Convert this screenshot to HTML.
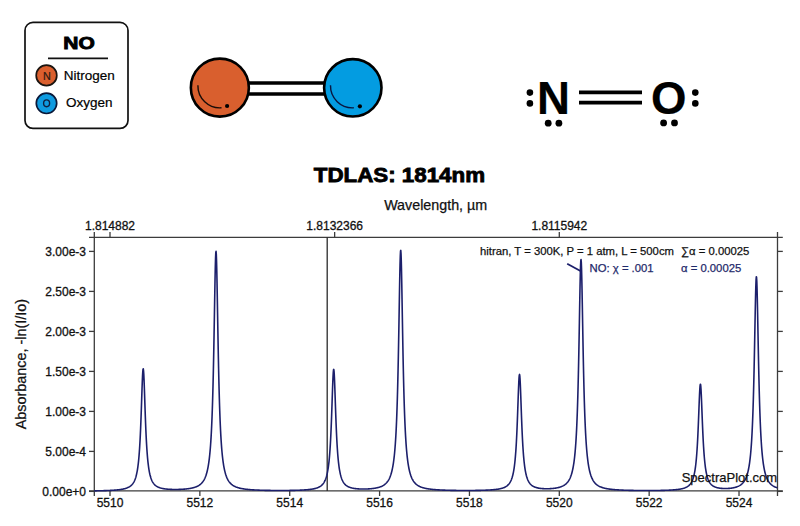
<!DOCTYPE html>
<html><head><meta charset="utf-8">
<style>
html,body{margin:0;padding:0;background:#fff;}
body{width:800px;height:526px;overflow:hidden;position:relative;font-family:"Liberation Sans", sans-serif;}
svg{position:absolute;left:0;top:0;}
text{font-family:"Liberation Sans", sans-serif;}
</style></head><body>
<svg width="800" height="526" viewBox="0 0 800 526">
<rect x="0" y="0" width="800" height="526" fill="#ffffff"/>
<!-- legend box -->
<rect x="25" y="22.4" width="103" height="106" rx="8" ry="8" fill="#fff" stroke="#111" stroke-width="1.7"/>
<text transform="translate(79,49.3) scale(1.22,1)" x="0" y="0" text-anchor="middle" font-size="17.2" font-weight="bold" fill="#000" stroke="#000" stroke-width="0.9">NO</text>
<line x1="48" y1="58.4" x2="108" y2="58.4" stroke="#111" stroke-width="1.6"/>
<circle cx="46.5" cy="75.4" r="10.3" fill="#DA5F2E" stroke="#1a1410" stroke-width="1.7"/>
<text x="46.9" y="79.9" text-anchor="middle" font-size="10.8" fill="#2a1a10" stroke="#2a1a10" stroke-width="0.2">N</text>
<text x="63.7" y="79.6" font-size="13.5" fill="#000" stroke="#000" stroke-width="0.2">Nitrogen</text>
<circle cx="46.5" cy="103.3" r="10.2" fill="#0F9BE0" stroke="#0a1838" stroke-width="1.7"/>
<ellipse cx="46.6" cy="103.3" rx="3.0" ry="3.4" fill="none" stroke="#0f2040" stroke-width="1.4"/>
<text x="66" y="106.7" font-size="13.5" fill="#000" stroke="#000" stroke-width="0.2">Oxygen</text>

<!-- ball & stick -->
<line x1="248" y1="83" x2="324" y2="83" stroke="#000" stroke-width="3.5"/>
<line x1="248" y1="94" x2="324" y2="94" stroke="#000" stroke-width="3.5"/>
<circle cx="219.85" cy="87.65" r="29" fill="#D95F2E" stroke="#000" stroke-width="2.6"/>
<path d="M197.9,85.3 A22,22 0 0 0 221.5,107.8" fill="none" stroke="#1a0d08" stroke-width="1.4"/>
<circle cx="227.1" cy="106" r="2.1" fill="#000"/>
<circle cx="352.8" cy="87.8" r="28.7" fill="#039CE1" stroke="#000" stroke-width="2.6"/>
<path d="M330.5,85.3 A22,22 0 0 0 353.8,107.8" fill="none" stroke="#0a1640" stroke-width="1.4"/>
<circle cx="359.9" cy="106.3" r="2.1" fill="#000"/>

<!-- Lewis -->
<text x="553.4" y="113.5" text-anchor="middle" font-size="45.6" font-weight="bold" fill="#000" stroke="#000" stroke-width="0.2">N</text>
<text x="668.8" y="113.7" text-anchor="middle" font-size="45.6" font-weight="bold" fill="#000" stroke="#000" stroke-width="0.2">O</text>
<line x1="579" y1="92.3" x2="642" y2="92.3" stroke="#000" stroke-width="3.7"/>
<line x1="579" y1="102.7" x2="642" y2="102.7" stroke="#000" stroke-width="3.7"/>
<circle cx="529.9" cy="92.6" r="3.3" fill="#000"/>
<circle cx="529.9" cy="103.4" r="3.3" fill="#000"/>
<circle cx="548.2" cy="123.2" r="3.4" fill="#000"/>
<circle cx="558.9" cy="123.2" r="3.4" fill="#000"/>
<circle cx="695.3" cy="92.6" r="3.3" fill="#000"/>
<circle cx="695.3" cy="103.4" r="3.3" fill="#000"/>
<circle cx="663.6" cy="122.9" r="3.4" fill="#000"/>
<circle cx="674.5" cy="122.9" r="3.4" fill="#000"/>

<!-- title -->
<text transform="translate(399.4,182.2) scale(1.14,1)" x="0" y="0" text-anchor="middle" font-size="19.6" font-weight="bold" fill="#000" stroke="#000" stroke-width="0.8">TDLAS: 1814nm</text>
<text x="435.7" y="210.1" text-anchor="middle" font-size="14.3" fill="#111" stroke="#111" stroke-width="0.25">Wavelength, µm</text>

<!-- axes -->
<g stroke="#3c3c3c" stroke-width="1.3" fill="none">
<line x1="89" y1="237.3" x2="782.8" y2="237.3"/>
<line x1="89" y1="490.8" x2="782.8" y2="490.8"/>
<line x1="94.3" y1="232" x2="94.3" y2="496"/>
<line x1="777.5" y1="232" x2="777.5" y2="496"/>
</g>
<g stroke="#3c3c3c" stroke-width="1.3"><line x1="110.00" y1="491" x2="110.00" y2="496"/><line x1="199.86" y1="491" x2="199.86" y2="496"/><line x1="289.72" y1="491" x2="289.72" y2="496"/><line x1="379.58" y1="491" x2="379.58" y2="496"/><line x1="469.44" y1="491" x2="469.44" y2="496"/><line x1="559.30" y1="491" x2="559.30" y2="496"/><line x1="649.16" y1="491" x2="649.16" y2="496"/><line x1="739.02" y1="491" x2="739.02" y2="496"/><line x1="110.00" y1="232" x2="110.00" y2="237.2"/><line x1="334.65" y1="232" x2="334.65" y2="237.2"/><line x1="559.30" y1="232" x2="559.30" y2="237.2"/><line x1="89" y1="491.40" x2="94.3" y2="491.40"/><line x1="777.5" y1="491.40" x2="782.8" y2="491.40"/><line x1="89" y1="451.40" x2="94.3" y2="451.40"/><line x1="777.5" y1="451.40" x2="782.8" y2="451.40"/><line x1="89" y1="411.40" x2="94.3" y2="411.40"/><line x1="777.5" y1="411.40" x2="782.8" y2="411.40"/><line x1="89" y1="371.40" x2="94.3" y2="371.40"/><line x1="777.5" y1="371.40" x2="782.8" y2="371.40"/><line x1="89" y1="331.40" x2="94.3" y2="331.40"/><line x1="777.5" y1="331.40" x2="782.8" y2="331.40"/><line x1="89" y1="291.40" x2="94.3" y2="291.40"/><line x1="777.5" y1="291.40" x2="782.8" y2="291.40"/><line x1="89" y1="251.40" x2="94.3" y2="251.40"/><line x1="777.5" y1="251.40" x2="782.8" y2="251.40"/></g>
<g fill="#111" stroke="#111" stroke-width="0.3"><text x="110.00" y="506.8" text-anchor="middle" font-size="12">5510</text><text x="199.86" y="506.8" text-anchor="middle" font-size="12">5512</text><text x="289.72" y="506.8" text-anchor="middle" font-size="12">5514</text><text x="379.58" y="506.8" text-anchor="middle" font-size="12">5516</text><text x="469.44" y="506.8" text-anchor="middle" font-size="12">5518</text><text x="559.30" y="506.8" text-anchor="middle" font-size="12">5520</text><text x="649.16" y="506.8" text-anchor="middle" font-size="12">5522</text><text x="739.02" y="506.8" text-anchor="middle" font-size="12">5524</text><text x="110.00" y="229.5" text-anchor="middle" font-size="12">1.814882</text><text x="334.65" y="229.5" text-anchor="middle" font-size="12">1.8132366</text><text x="559.30" y="229.5" text-anchor="middle" font-size="12">1.8115942</text><text x="86" y="495.60" text-anchor="end" font-size="12">0.00e+0</text><text x="86" y="455.60" text-anchor="end" font-size="12">5.00e-4</text><text x="86" y="415.60" text-anchor="end" font-size="12">1.00e-3</text><text x="86" y="375.60" text-anchor="end" font-size="12">1.50e-3</text><text x="86" y="335.60" text-anchor="end" font-size="12">2.00e-3</text><text x="86" y="295.60" text-anchor="end" font-size="12">2.50e-3</text><text x="86" y="255.60" text-anchor="end" font-size="12">3.00e-3</text></g>

<line x1="327.2" y1="237.2" x2="327.2" y2="491.1" stroke="#2a2a2a" stroke-width="1.3"/>
<text transform="translate(26.3,364.1) rotate(-90)" text-anchor="middle" font-size="14.4" fill="#111" stroke="#111" stroke-width="0.25">Absorbance, -ln(I/Io)</text>
<polyline points="94.30,490.88 95.30,490.86 96.30,490.84 97.30,490.82 98.30,490.80 99.30,490.78 100.30,490.76 101.30,490.73 102.30,490.71 103.30,490.68 103.80,490.66 104.30,490.65 104.80,490.63 105.30,490.61 105.80,490.60 106.30,490.58 106.80,490.56 107.30,490.54 107.80,490.52 108.30,490.50 108.80,490.48 109.30,490.45 109.80,490.43 110.30,490.41 110.80,490.38 111.30,490.35 111.80,490.32 112.30,490.29 112.80,490.26 113.30,490.23 113.80,490.20 114.30,490.16 114.80,490.12 115.30,490.08 115.80,490.04 116.30,490.00 116.80,489.95 117.30,489.90 117.80,489.85 118.30,489.80 118.80,489.74 119.30,489.68 119.80,489.61 120.30,489.54 120.80,489.47 121.30,489.39 121.80,489.30 122.30,489.21 122.80,489.12 123.30,489.01 123.80,488.90 124.30,488.78 124.80,488.65 125.30,488.51 125.80,488.36 126.30,488.19 126.80,488.01 127.30,487.82 127.80,487.60 128.30,487.37 128.55,487.24 128.80,487.11 129.05,486.97 129.30,486.82 129.55,486.67 129.80,486.51 130.05,486.34 130.30,486.16 130.55,485.96 130.80,485.76 131.05,485.55 131.30,485.32 131.55,485.08 131.80,484.83 132.05,484.56 132.30,484.27 132.55,483.96 132.80,483.64 133.05,483.29 133.30,482.91 133.55,482.51 133.80,482.08 134.05,481.62 134.30,481.12 134.55,480.59 134.80,480.01 135.05,479.38 135.30,478.71 135.55,477.97 135.80,477.17 136.05,476.30 136.30,475.35 136.55,474.31 136.80,473.16 137.05,471.91 137.30,470.53 137.55,469.00 137.80,467.32 138.05,465.45 138.30,463.38 138.55,461.07 138.80,458.49 139.05,455.62 139.30,452.41 139.55,448.83 139.80,444.82 140.05,440.35 140.30,435.38 140.55,429.88 140.80,423.84 141.05,417.27 141.30,410.25 141.55,402.89 141.80,395.40 142.05,388.09 142.30,381.36 142.55,375.65 142.80,371.43 143.05,369.09 143.30,368.87 143.55,370.79 143.80,374.66 144.05,380.10 144.30,386.67 144.55,393.89 144.80,401.36 145.05,408.76 145.30,415.86 145.55,422.52 145.80,428.67 146.05,434.27 146.30,439.34 146.55,443.90 146.80,447.99 147.05,451.65 147.30,454.93 147.55,457.86 147.80,460.49 148.05,462.84 148.30,464.96 148.55,466.86 148.80,468.58 149.05,470.13 149.30,471.53 149.55,472.80 149.80,473.96 150.05,475.02 150.30,475.98 150.55,476.86 150.80,477.67 151.05,478.41 151.30,479.10 151.55,479.73 151.80,480.31 152.05,480.85 152.30,481.35 152.55,481.81 152.80,482.24 153.05,482.64 153.30,483.02 153.55,483.37 153.80,483.69 154.05,484.00 154.30,484.29 154.55,484.56 154.80,484.81 155.05,485.05 155.30,485.27 155.55,485.48 155.80,485.68 156.05,485.87 156.30,486.04 156.55,486.21 156.80,486.37 157.05,486.52 157.30,486.66 157.55,486.80 157.80,486.92 158.05,487.05 158.30,487.16 158.80,487.38 159.30,487.57 159.80,487.75 160.30,487.91 160.80,488.06 161.30,488.19 161.80,488.31 162.30,488.43 162.80,488.53 163.30,488.62 163.80,488.71 164.30,488.79 164.80,488.86 165.30,488.93 165.80,488.99 166.30,489.05 166.80,489.10 167.30,489.15 167.80,489.19 168.30,489.23 168.80,489.26 169.30,489.30 169.80,489.32 170.30,489.35 170.80,489.37 171.30,489.39 171.80,489.41 172.30,489.43 172.80,489.44 173.30,489.45 173.80,489.46 174.30,489.46 174.80,489.47 175.30,489.47 175.80,489.47 176.30,489.47 176.80,489.46 177.30,489.45 177.80,489.44 178.30,489.43 178.80,489.42 179.30,489.41 179.80,489.39 180.30,489.37 180.80,489.35 181.30,489.32 181.80,489.30 182.30,489.27 182.80,489.24 183.30,489.21 183.80,489.17 184.30,489.13 184.80,489.09 185.30,489.04 185.80,489.00 186.30,488.94 186.80,488.89 187.30,488.83 187.80,488.77 188.30,488.70 188.80,488.63 189.30,488.55 189.80,488.47 190.30,488.39 190.80,488.29 191.30,488.19 191.80,488.09 192.30,487.98 192.80,487.86 193.30,487.73 193.80,487.59 194.30,487.44 194.80,487.28 195.30,487.11 195.80,486.92 196.30,486.72 196.80,486.51 197.30,486.27 197.80,486.02 198.30,485.75 198.80,485.45 199.30,485.12 199.80,484.77 200.30,484.38 200.80,483.95 201.30,483.48 201.55,483.23 201.80,482.96 202.05,482.68 202.30,482.39 202.55,482.08 202.80,481.75 203.05,481.40 203.30,481.04 203.55,480.65 203.80,480.24 204.05,479.81 204.30,479.35 204.55,478.86 204.80,478.34 205.05,477.78 205.30,477.20 205.55,476.57 205.80,475.89 206.05,475.18 206.30,474.40 206.55,473.58 206.80,472.69 207.05,471.74 207.30,470.71 207.55,469.59 207.80,468.39 208.05,467.09 208.30,465.67 208.55,464.14 208.80,462.46 209.05,460.63 209.30,458.64 209.55,456.44 209.80,454.04 210.05,451.38 210.30,448.46 210.55,445.23 210.80,441.64 211.05,437.66 211.30,433.24 211.55,428.31 211.80,422.80 212.05,416.66 212.30,409.78 212.55,402.11 212.80,393.54 213.05,384.00 213.30,373.43 213.55,361.80 213.80,349.13 214.05,335.53 214.30,321.21 214.55,306.55 214.80,292.10 215.05,278.61 215.30,266.94 215.55,258.02 215.80,252.66 216.05,251.39 216.30,254.34 216.55,261.20 216.80,271.33 217.05,283.84 217.30,297.82 217.55,312.43 217.80,327.01 218.05,341.08 218.30,354.33 218.55,366.60 218.80,377.80 219.05,387.95 219.30,397.09 219.55,405.30 219.80,412.64 220.05,419.22 220.30,425.10 220.55,430.37 220.80,435.09 221.05,439.33 221.30,443.15 221.55,446.59 221.80,449.70 222.05,452.51 222.30,455.06 222.55,457.38 222.80,459.49 223.05,461.42 223.30,463.19 223.55,464.81 223.80,466.30 224.05,467.67 224.30,468.93 224.55,470.10 224.80,471.18 225.05,472.18 225.30,473.11 225.55,473.97 225.80,474.78 226.05,475.53 226.30,476.23 226.55,476.88 226.80,477.50 227.05,478.07 227.30,478.62 227.55,479.12 227.80,479.60 228.05,480.05 228.30,480.48 228.55,480.88 228.80,481.26 229.05,481.62 229.30,481.96 229.55,482.28 229.80,482.59 230.05,482.88 230.30,483.16 230.55,483.42 230.80,483.67 231.05,483.91 231.55,484.35 232.05,484.75 232.55,485.12 233.05,485.46 233.55,485.77 234.05,486.06 234.55,486.32 235.05,486.56 235.55,486.79 236.05,487.00 236.55,487.19 237.05,487.37 237.55,487.54 238.05,487.70 238.55,487.85 239.05,487.99 239.55,488.11 240.05,488.24 240.55,488.35 241.05,488.46 241.55,488.56 242.05,488.65 242.55,488.74 243.05,488.83 243.55,488.91 244.05,488.98 244.55,489.06 245.05,489.13 245.55,489.19 246.05,489.25 246.55,489.31 247.05,489.37 247.55,489.42 248.05,489.47 248.55,489.52 249.05,489.56 249.55,489.61 250.05,489.65 250.55,489.69 251.05,489.73 251.55,489.76 252.05,489.80 252.55,489.83 253.05,489.86 253.55,489.89 254.05,489.92 254.55,489.95 255.05,489.98 255.55,490.00 256.05,490.03 257.05,490.07 258.05,490.12 259.05,490.16 260.05,490.19 261.05,490.22 262.05,490.26 263.05,490.28 264.05,490.31 265.05,490.33 266.05,490.35 267.05,490.37 268.05,490.39 269.05,490.41 270.05,490.42 271.05,490.43 272.05,490.45 273.05,490.46 274.05,490.46 275.05,490.47 276.05,490.48 277.05,490.48 278.05,490.49 279.05,490.49 280.05,490.49 281.05,490.49 282.05,490.49 283.05,490.48 284.05,490.48 285.05,490.47 286.05,490.47 287.05,490.46 288.05,490.45 289.05,490.44 290.05,490.42 291.05,490.41 292.05,490.39 293.05,490.37 294.05,490.35 294.55,490.34 295.05,490.33 295.55,490.31 296.05,490.30 296.55,490.28 297.05,490.27 297.55,490.25 298.05,490.24 298.55,490.22 299.05,490.20 299.55,490.18 300.05,490.16 300.55,490.14 301.05,490.12 301.55,490.09 302.05,490.07 302.55,490.04 303.05,490.01 303.55,489.99 304.05,489.95 304.55,489.92 305.05,489.89 305.55,489.85 306.05,489.81 306.55,489.77 307.05,489.73 307.55,489.69 308.05,489.64 308.55,489.59 309.05,489.53 309.55,489.47 310.05,489.41 310.55,489.35 311.05,489.28 311.55,489.20 312.05,489.12 312.55,489.04 313.05,488.95 313.55,488.85 314.05,488.74 314.55,488.63 315.05,488.51 315.55,488.38 316.05,488.23 316.55,488.08 317.05,487.91 317.55,487.72 318.05,487.52 318.55,487.30 319.05,487.05 319.30,486.92 319.55,486.78 319.80,486.64 320.05,486.49 320.30,486.33 320.55,486.16 320.80,485.98 321.05,485.79 321.30,485.59 321.55,485.38 321.80,485.15 322.05,484.91 322.30,484.66 322.55,484.39 322.80,484.11 323.05,483.80 323.30,483.48 323.55,483.13 323.80,482.76 324.05,482.36 324.30,481.93 324.55,481.48 324.80,480.98 325.05,480.45 325.30,479.88 325.55,479.26 325.80,478.58 326.05,477.85 326.30,477.06 326.55,476.19 326.80,475.25 327.05,474.21 327.30,473.08 327.55,471.83 327.80,470.46 328.05,468.95 328.30,467.27 328.55,465.42 328.80,463.36 329.05,461.06 329.30,458.51 329.55,455.65 329.80,452.46 330.05,448.90 330.30,444.92 330.55,440.48 330.80,435.54 331.05,430.08 331.30,424.08 331.55,417.55 331.80,410.57 332.05,403.26 332.30,395.83 332.55,388.57 332.80,381.87 333.05,376.20 333.30,372.01 333.55,369.69 333.80,369.47 334.05,371.38 334.30,375.22 334.55,380.63 334.80,387.15 335.05,394.32 335.30,401.75 335.55,409.10 335.80,416.15 336.05,422.77 336.30,428.87 336.55,434.44 336.80,439.48 337.05,444.01 337.30,448.07 337.55,451.71 337.80,454.96 338.05,457.88 338.30,460.49 338.55,462.82 338.80,464.92 339.05,466.82 339.30,468.52 339.55,470.06 339.80,471.45 340.05,472.72 340.30,473.87 340.55,474.92 340.80,475.87 341.05,476.75 341.30,477.55 341.55,478.29 341.80,478.97 342.05,479.59 342.30,480.17 342.55,480.71 342.80,481.20 343.05,481.66 343.30,482.09 343.55,482.49 343.80,482.86 344.05,483.20 344.30,483.53 344.55,483.83 344.80,484.11 345.05,484.38 345.30,484.63 345.55,484.87 345.80,485.09 346.05,485.29 346.30,485.49 346.55,485.68 346.80,485.85 347.05,486.02 347.30,486.17 347.55,486.32 347.80,486.46 348.05,486.59 348.30,486.72 348.55,486.84 348.80,486.95 349.30,487.16 349.80,487.36 350.30,487.53 350.80,487.69 351.30,487.83 351.80,487.96 352.30,488.08 352.80,488.18 353.30,488.28 353.80,488.37 354.30,488.45 354.80,488.53 355.30,488.60 355.80,488.66 356.30,488.71 356.80,488.76 357.30,488.81 357.80,488.85 358.30,488.89 358.80,488.92 359.30,488.95 359.80,488.97 360.30,488.99 360.80,489.01 361.30,489.02 361.80,489.04 362.30,489.04 362.80,489.05 363.30,489.05 363.80,489.05 364.30,489.05 364.80,489.04 365.30,489.03 365.80,489.02 366.30,489.00 366.80,488.98 367.30,488.96 367.80,488.94 368.30,488.91 368.80,488.88 369.30,488.85 369.80,488.81 370.30,488.77 370.80,488.73 371.30,488.68 371.80,488.63 372.30,488.57 372.80,488.51 373.30,488.45 373.80,488.38 374.30,488.30 374.80,488.22 375.30,488.14 375.80,488.04 376.30,487.95 376.80,487.84 377.30,487.72 377.80,487.60 378.30,487.47 378.80,487.33 379.30,487.17 379.80,487.01 380.30,486.83 380.80,486.64 381.30,486.43 381.80,486.21 382.30,485.97 382.80,485.70 383.30,485.41 383.80,485.10 384.30,484.76 384.80,484.38 385.30,483.97 385.80,483.52 386.05,483.28 386.30,483.02 386.55,482.75 386.80,482.47 387.05,482.17 387.30,481.86 387.55,481.52 387.80,481.17 388.05,480.80 388.30,480.41 388.55,480.00 388.80,479.56 389.05,479.09 389.30,478.59 389.55,478.06 389.80,477.50 390.05,476.90 390.30,476.26 390.55,475.58 390.80,474.85 391.05,474.06 391.30,473.22 391.55,472.32 391.80,471.34 392.05,470.30 392.30,469.16 392.55,467.93 392.80,466.61 393.05,465.16 393.30,463.59 393.55,461.88 393.80,460.01 394.05,457.97 394.30,455.72 394.55,453.26 394.80,450.54 395.05,447.55 395.30,444.23 395.55,440.56 395.80,436.47 396.05,431.93 396.30,426.87 396.55,421.22 396.80,414.90 397.05,407.84 397.30,399.96 397.55,391.16 397.80,381.38 398.05,370.55 398.30,358.65 398.55,345.72 398.80,331.89 399.05,317.40 399.30,302.66 399.55,288.27 399.80,275.01 400.05,263.77 400.30,255.46 400.55,250.87 400.80,250.44 401.05,254.23 401.30,261.85 401.55,272.58 401.80,285.51 402.05,299.75 402.30,314.47 402.55,329.05 402.80,343.04 403.05,356.17 403.30,368.28 403.55,379.32 403.80,389.31 404.05,398.30 404.30,406.37 404.55,413.59 404.80,420.05 405.05,425.83 405.30,431.01 405.55,435.65 405.80,439.82 406.05,443.58 406.30,446.96 406.55,450.02 406.80,452.79 407.05,455.31 407.30,457.60 407.55,459.68 407.80,461.59 408.05,463.33 408.30,464.93 408.55,466.40 408.80,467.76 409.05,469.00 409.30,470.16 409.55,471.23 409.80,472.22 410.05,473.14 410.30,473.99 410.55,474.79 410.80,475.54 411.05,476.23 411.30,476.88 411.55,477.49 411.80,478.06 412.05,478.60 412.30,479.11 412.55,479.58 412.80,480.03 413.05,480.45 413.30,480.85 413.55,481.23 413.80,481.59 414.05,481.93 414.30,482.25 414.55,482.55 414.80,482.84 415.05,483.12 415.30,483.38 415.55,483.63 415.80,483.86 416.30,484.31 416.80,484.71 417.30,485.08 417.80,485.41 418.30,485.72 418.80,486.01 419.30,486.27 419.80,486.52 420.30,486.74 420.80,486.95 421.30,487.14 421.80,487.33 422.30,487.49 422.80,487.65 423.30,487.80 423.80,487.94 424.30,488.07 424.80,488.19 425.30,488.30 425.80,488.41 426.30,488.51 426.80,488.61 427.30,488.70 427.80,488.78 428.30,488.86 428.80,488.94 429.30,489.01 429.80,489.08 430.30,489.15 430.80,489.21 431.30,489.27 431.80,489.32 432.30,489.38 432.80,489.43 433.30,489.48 433.80,489.52 434.30,489.57 434.80,489.61 435.30,489.65 435.80,489.69 436.30,489.73 436.80,489.76 437.30,489.79 437.80,489.83 438.30,489.86 438.80,489.89 439.30,489.92 439.80,489.94 440.30,489.97 440.80,489.99 441.80,490.04 442.80,490.08 443.80,490.12 444.80,490.16 445.80,490.20 446.80,490.23 447.80,490.26 448.80,490.28 449.80,490.31 450.80,490.33 451.80,490.35 452.80,490.37 453.80,490.39 454.80,490.40 455.80,490.41 456.80,490.43 457.80,490.44 458.80,490.45 459.80,490.46 460.80,490.46 461.80,490.47 462.80,490.47 463.80,490.48 464.80,490.48 465.80,490.48 466.80,490.48 467.80,490.48 468.80,490.48 469.80,490.47 470.80,490.47 471.80,490.46 472.80,490.45 473.80,490.44 474.80,490.43 475.80,490.42 476.80,490.40 477.80,490.39 478.80,490.37 479.80,490.35 480.30,490.34 480.80,490.33 481.30,490.31 481.80,490.30 482.30,490.29 482.80,490.27 483.30,490.26 483.80,490.24 484.30,490.22 484.80,490.21 485.30,490.19 485.80,490.17 486.30,490.15 486.80,490.13 487.30,490.10 487.80,490.08 488.30,490.05 488.80,490.03 489.30,490.00 489.80,489.97 490.30,489.94 490.80,489.91 491.30,489.87 491.80,489.83 492.30,489.80 492.80,489.76 493.30,489.71 493.80,489.67 494.30,489.62 494.80,489.57 495.30,489.51 495.80,489.45 496.30,489.39 496.80,489.32 497.30,489.25 497.80,489.18 498.30,489.09 498.80,489.01 499.30,488.91 499.80,488.81 500.30,488.71 500.80,488.59 501.30,488.46 501.80,488.32 502.30,488.18 502.80,488.01 503.30,487.84 503.80,487.65 504.30,487.43 504.80,487.20 505.05,487.08 505.30,486.95 505.55,486.81 505.80,486.66 506.05,486.51 506.30,486.35 506.55,486.18 506.80,486.00 507.05,485.81 507.30,485.61 507.55,485.40 507.80,485.17 508.05,484.93 508.30,484.68 508.55,484.41 508.80,484.12 509.05,483.81 509.30,483.48 509.55,483.13 509.80,482.76 510.05,482.35 510.30,481.92 510.55,481.46 510.80,480.95 511.05,480.41 511.30,479.83 511.55,479.19 511.80,478.50 512.05,477.76 512.30,476.94 512.55,476.05 512.80,475.08 513.05,474.01 513.30,472.84 513.55,471.55 513.80,470.13 514.05,468.56 514.30,466.82 514.55,464.88 514.80,462.73 515.05,460.34 515.30,457.67 515.55,454.68 515.80,451.34 516.05,447.61 516.30,443.45 516.55,438.82 516.80,433.69 517.05,428.05 517.30,421.90 517.55,415.29 517.80,408.34 518.05,401.23 518.30,394.21 518.55,387.66 518.80,382.00 519.05,377.67 519.30,375.06 519.55,374.44 519.80,375.87 520.05,379.20 520.30,384.11 520.55,390.18 520.80,396.95 521.05,404.04 521.30,411.11 521.55,417.93 521.80,424.36 522.05,430.31 522.30,435.74 522.55,440.66 522.80,445.09 523.05,449.07 523.30,452.63 523.55,455.82 523.80,458.67 524.05,461.22 524.30,463.51 524.55,465.56 524.80,467.41 525.05,469.07 525.30,470.57 525.55,471.93 525.80,473.17 526.05,474.29 526.30,475.31 526.55,476.24 526.80,477.09 527.05,477.88 527.30,478.59 527.55,479.25 527.80,479.86 528.05,480.42 528.30,480.94 528.55,481.42 528.80,481.86 529.05,482.28 529.30,482.66 529.55,483.02 529.80,483.36 530.05,483.67 530.30,483.96 530.55,484.23 530.80,484.49 531.05,484.73 531.30,484.96 531.55,485.17 531.80,485.37 532.05,485.56 532.30,485.74 532.55,485.90 532.80,486.06 533.05,486.21 533.30,486.35 533.55,486.49 533.80,486.61 534.05,486.73 534.30,486.85 534.55,486.95 535.05,487.15 535.55,487.33 536.05,487.50 536.55,487.64 537.05,487.77 537.55,487.89 538.05,488.00 538.55,488.10 539.05,488.19 539.55,488.27 540.05,488.34 540.55,488.41 541.05,488.46 541.55,488.51 542.05,488.56 542.55,488.60 543.05,488.63 543.55,488.66 544.05,488.69 544.55,488.71 545.05,488.72 545.55,488.74 546.05,488.74 546.55,488.75 547.05,488.75 547.55,488.74 548.05,488.73 548.55,488.72 549.05,488.71 549.55,488.69 550.05,488.66 550.55,488.64 551.05,488.60 551.55,488.57 552.05,488.53 552.55,488.48 553.05,488.43 553.55,488.38 554.05,488.32 554.55,488.26 555.05,488.19 555.55,488.11 556.05,488.03 556.55,487.94 557.05,487.84 557.55,487.74 558.05,487.63 558.55,487.50 559.05,487.37 559.55,487.23 560.05,487.08 560.55,486.91 561.05,486.73 561.55,486.54 562.05,486.33 562.55,486.10 563.05,485.85 563.55,485.58 564.05,485.28 564.55,484.96 565.05,484.61 565.55,484.22 566.05,483.79 566.30,483.56 566.55,483.32 566.80,483.06 567.05,482.79 567.30,482.51 567.55,482.21 567.80,481.90 568.05,481.57 568.30,481.22 568.55,480.84 568.80,480.45 569.05,480.03 569.30,479.59 569.55,479.12 569.80,478.62 570.05,478.09 570.30,477.52 570.55,476.91 570.80,476.27 571.05,475.57 571.30,474.83 571.55,474.03 571.80,473.18 572.05,472.26 572.30,471.26 572.55,470.19 572.80,469.03 573.05,467.78 573.30,466.41 573.55,464.93 573.80,463.31 574.05,461.55 574.30,459.62 574.55,457.50 574.80,455.18 575.05,452.62 575.30,449.79 575.55,446.67 575.80,443.21 576.05,439.37 576.30,435.10 576.55,430.34 576.80,425.02 577.05,419.09 577.30,412.45 577.55,405.04 577.80,396.76 578.05,387.55 578.30,377.35 578.55,366.11 578.80,353.88 579.05,340.74 579.30,326.91 579.55,312.75 579.80,298.80 580.05,285.77 580.30,274.50 580.55,265.89 580.80,260.71 581.05,259.48 581.30,262.33 581.55,268.97 581.80,278.75 582.05,290.83 582.30,304.33 582.55,318.45 582.80,332.53 583.05,346.12 583.30,358.92 583.55,370.76 583.80,381.59 584.05,391.39 584.30,400.22 584.55,408.15 584.80,415.24 585.05,421.59 585.30,427.27 585.55,432.36 585.80,436.93 586.05,441.02 586.30,444.71 586.55,448.03 586.80,451.03 587.05,453.75 587.30,456.22 587.55,458.46 587.80,460.50 588.05,462.36 588.30,464.07 588.55,465.64 588.80,467.07 589.05,468.40 589.30,469.62 589.55,470.74 589.80,471.79 590.05,472.75 590.30,473.65 590.55,474.49 590.80,475.27 591.05,475.99 591.30,476.67 591.55,477.30 591.80,477.90 592.05,478.45 592.30,478.98 592.55,479.47 592.80,479.93 593.05,480.37 593.30,480.78 593.55,481.17 593.80,481.54 594.05,481.88 594.30,482.21 594.55,482.53 594.80,482.82 595.05,483.10 595.30,483.37 595.55,483.62 595.80,483.87 596.05,484.10 596.55,484.53 597.05,484.92 597.55,485.27 598.05,485.60 598.55,485.90 599.05,486.18 599.55,486.44 600.05,486.67 600.55,486.89 601.05,487.09 601.55,487.28 602.05,487.46 602.55,487.62 603.05,487.77 603.55,487.92 604.05,488.05 604.55,488.18 605.05,488.29 605.55,488.41 606.05,488.51 606.55,488.61 607.05,488.70 607.55,488.79 608.05,488.87 608.55,488.95 609.05,489.03 609.55,489.10 610.05,489.16 610.55,489.23 611.05,489.29 611.55,489.34 612.05,489.40 612.55,489.45 613.05,489.50 613.55,489.55 614.05,489.59 614.55,489.64 615.05,489.68 615.55,489.72 616.05,489.75 616.55,489.79 617.05,489.82 617.55,489.86 618.05,489.89 618.55,489.92 619.05,489.95 619.55,489.97 620.05,490.00 620.55,490.03 621.05,490.05 622.05,490.10 623.05,490.14 624.05,490.18 625.05,490.22 626.05,490.25 627.05,490.28 628.05,490.31 629.05,490.33 630.05,490.36 631.05,490.38 632.05,490.40 633.05,490.42 634.05,490.44 635.05,490.45 636.05,490.47 637.05,490.48 638.05,490.49 639.05,490.50 640.05,490.51 641.05,490.52 642.05,490.52 643.05,490.53 644.05,490.53 645.05,490.54 646.05,490.54 647.05,490.54 648.05,490.54 649.05,490.54 650.05,490.54 651.05,490.53 652.05,490.53 653.05,490.52 654.05,490.51 655.05,490.50 656.05,490.49 657.05,490.48 658.05,490.47 659.05,490.45 660.05,490.43 661.05,490.41 661.55,490.40 662.05,490.39 662.55,490.38 663.05,490.37 663.55,490.35 664.05,490.34 664.55,490.33 665.05,490.31 665.55,490.30 666.05,490.28 666.55,490.26 667.05,490.24 667.55,490.22 668.05,490.20 668.55,490.18 669.05,490.16 669.55,490.13 670.05,490.11 670.55,490.08 671.05,490.05 671.55,490.02 672.05,489.99 672.55,489.96 673.05,489.92 673.55,489.89 674.05,489.85 674.55,489.81 675.05,489.76 675.55,489.71 676.05,489.66 676.55,489.61 677.05,489.56 677.55,489.50 678.05,489.43 678.55,489.36 679.05,489.29 679.55,489.21 680.05,489.13 680.55,489.04 681.05,488.94 681.55,488.83 682.05,488.72 682.55,488.60 683.05,488.46 683.55,488.32 684.05,488.16 684.55,487.99 685.05,487.80 685.55,487.59 685.80,487.48 686.05,487.36 686.30,487.24 686.55,487.11 686.80,486.98 687.05,486.83 687.30,486.68 687.55,486.52 687.80,486.35 688.05,486.18 688.30,485.99 688.55,485.79 688.80,485.58 689.05,485.35 689.30,485.11 689.55,484.86 689.80,484.58 690.05,484.30 690.30,483.99 690.55,483.65 690.80,483.30 691.05,482.92 691.30,482.51 691.55,482.07 691.80,481.59 692.05,481.08 692.30,480.53 692.55,479.93 692.80,479.27 693.05,478.56 693.30,477.79 693.55,476.94 693.80,476.02 694.05,475.00 694.30,473.89 694.55,472.66 694.80,471.30 695.05,469.80 695.30,468.14 695.55,466.29 695.80,464.23 696.05,461.94 696.30,459.37 696.55,456.51 696.80,453.31 697.05,449.74 697.30,445.76 697.55,441.33 697.80,436.44 698.05,431.08 698.30,425.27 698.55,419.07 698.80,412.61 699.05,406.09 699.30,399.79 699.55,394.06 699.80,389.31 700.05,385.93 700.30,384.25 700.55,384.44 700.80,386.47 701.05,390.14 701.30,395.12 701.55,400.98 701.80,407.35 702.05,413.87 702.30,420.28 702.55,426.40 702.80,432.12 703.05,437.38 703.30,442.17 703.55,446.50 703.80,450.39 704.05,453.87 704.30,457.00 704.55,459.79 704.80,462.28 705.05,464.52 705.30,466.53 705.55,468.33 705.80,469.95 706.05,471.42 706.30,472.74 706.55,473.93 706.80,475.02 707.05,476.01 707.30,476.91 707.55,477.73 707.80,478.48 708.05,479.17 708.30,479.81 708.55,480.39 708.80,480.93 709.05,481.42 709.30,481.88 709.55,482.31 709.80,482.70 710.05,483.07 710.30,483.41 710.55,483.73 710.80,484.02 711.05,484.30 711.30,484.56 711.55,484.80 711.80,485.03 712.05,485.24 712.30,485.44 712.55,485.63 712.80,485.80 713.05,485.97 713.30,486.13 713.55,486.27 713.80,486.41 714.05,486.54 714.30,486.67 714.55,486.78 714.80,486.89 715.05,487.00 715.30,487.10 715.55,487.19 716.05,487.36 716.55,487.52 717.05,487.66 717.55,487.78 718.05,487.89 718.55,487.99 719.05,488.08 719.55,488.16 720.05,488.22 720.55,488.29 721.05,488.34 721.55,488.38 722.05,488.42 722.55,488.46 723.05,488.48 723.55,488.50 724.05,488.52 724.55,488.53 725.05,488.53 725.55,488.53 726.05,488.52 726.55,488.51 727.05,488.50 727.55,488.47 728.05,488.45 728.55,488.41 729.05,488.38 729.55,488.33 730.05,488.28 730.55,488.23 731.05,488.17 731.55,488.10 732.05,488.03 732.55,487.95 733.05,487.86 733.55,487.76 734.05,487.65 734.55,487.54 735.05,487.41 735.55,487.27 736.05,487.12 736.55,486.96 737.05,486.78 737.55,486.59 738.05,486.38 738.55,486.15 739.05,485.90 739.55,485.62 740.05,485.32 740.55,484.99 741.05,484.63 741.55,484.23 741.80,484.01 742.05,483.79 742.30,483.55 742.55,483.30 742.80,483.03 743.05,482.75 743.30,482.45 743.55,482.14 743.80,481.81 744.05,481.46 744.30,481.09 744.55,480.69 744.80,480.27 745.05,479.83 745.30,479.36 745.55,478.85 745.80,478.31 746.05,477.74 746.30,477.12 746.55,476.46 746.80,475.76 747.05,475.00 747.30,474.19 747.55,473.31 747.80,472.36 748.05,471.34 748.30,470.23 748.55,469.03 748.80,467.72 749.05,466.30 749.30,464.75 749.55,463.06 749.80,461.21 750.05,459.17 750.30,456.94 750.55,454.47 750.80,451.75 751.05,448.74 751.30,445.40 751.55,441.69 751.80,437.55 752.05,432.95 752.30,427.80 752.55,422.05 752.80,415.62 753.05,408.45 753.30,400.44 753.55,391.55 753.80,381.71 754.05,370.93 754.30,359.25 754.55,346.79 754.80,333.81 755.05,320.70 755.30,308.03 755.55,296.51 755.80,286.96 756.05,280.18 756.30,276.80 756.55,277.19 756.80,281.28 757.05,288.68 757.30,298.70 757.55,310.51 757.80,323.33 758.05,336.46 758.30,349.37 758.55,361.69 758.80,373.21 759.05,383.81 759.30,393.45 759.55,402.17 759.80,410.01 760.05,417.04 760.30,423.33 760.55,428.95 760.80,433.99 761.05,438.50 761.30,442.55 761.55,446.19 761.80,449.47 762.05,452.42 762.30,455.10 762.55,457.52 762.80,459.72 763.05,461.72 763.30,463.54 763.55,465.21 763.80,466.74 764.05,468.14 764.30,469.43 764.55,470.62 764.80,471.71 765.05,472.72 765.30,473.66 765.55,474.53 765.80,475.34 766.05,476.09 766.30,476.80 766.55,477.45 766.80,478.06 767.05,478.64 767.30,479.17 767.55,479.68 767.80,480.15 768.05,480.60 768.30,481.02 768.55,481.41 768.80,481.78 769.05,482.14 769.30,482.47 769.55,482.79 769.80,483.09 770.05,483.37 770.30,483.64 770.55,483.89 770.80,484.14 771.05,484.37 771.30,484.59 771.55,484.80 772.05,485.19 772.55,485.55 773.05,485.88 773.55,486.18 774.05,486.45 774.55,486.71 775.05,486.94 775.55,487.16 776.05,487.36 776.55,487.54 777.05,487.72 777.50,487.86" fill="none" stroke="#1c1f6b" stroke-width="1.6" stroke-linejoin="round"/>
<line x1="567.2" y1="263.7" x2="580.5" y2="271" stroke="#1c1f6b" stroke-width="1.8"/>
<text x="480" y="255" font-size="11.3" fill="#111" stroke="#111" stroke-width="0.25">hitran, T = 300K, P = 1 atm, L = 500cm</text>
<text x="681" y="255" font-size="11.3" fill="#111" stroke="#111" stroke-width="0.25">∑α = 0.00025</text>
<text x="589.6" y="272" font-size="11.3" fill="#1f2a6b" stroke="#1f2a6b" stroke-width="0.25">NO: χ = .001</text>
<text x="681" y="272" font-size="11.3" fill="#1f2a6b" stroke="#1f2a6b" stroke-width="0.25">α = 0.00025</text>
<text x="681.7" y="481.8" font-size="13" fill="#111" stroke="#111" stroke-width="0.25">SpectraPlot.com</text>
</svg>
</body></html>
